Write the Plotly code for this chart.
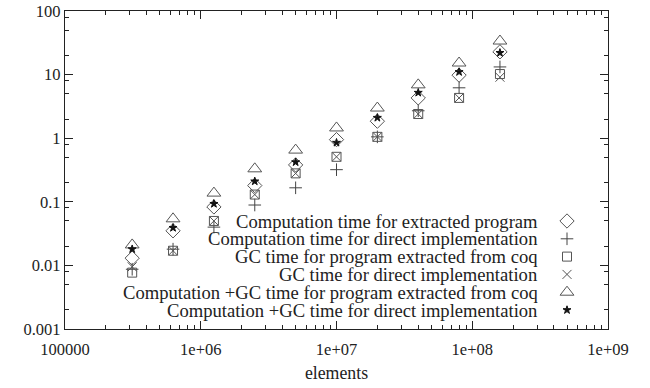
import plotly.graph_objects as go

# ---- data ----
elements = [312500, 625000, 1250000, 2500000, 5000000, 10000000, 20000000, 40000000, 80000000, 160000000]
comp_extracted = [0.013, 0.035, 0.083, 0.18, 0.38, 0.95, 1.85, 4.3, 9.8, 22.8]
comp_direct = [0.0087, 0.018, 0.04, 0.089, 0.166, 0.32, 1.05, 2.7, 6.2, 13.2]
gc_extracted = [0.0077, 0.017, 0.05, 0.13, 0.28, 0.51, 1.05, 2.4, 4.3, 10.2]
gc_direct = [0.0095, 0.017, 0.05, 0.13, 0.28, 0.51, 1.05, 2.4, 4.3, 9.1]
total_extracted = [0.021, 0.054, 0.137, 0.33, 0.65, 1.45, 2.98, 6.9, 15.2, 33.7]
total_direct = [0.018, 0.039, 0.093, 0.21, 0.42, 0.85, 2.1, 5.2, 11.0, 22.0]

series_names = [
    "Computation time for extracted program",
    "Computation time for direct implementation",
    "GC time for program extracted from coq",
    "GC time for direct implementation",
    "Computation +GC time for program extracted from coq",
    "Computation +GC time for direct implementation",
]
series_values = [comp_extracted, comp_direct, gc_extracted, gc_direct, total_extracted, total_direct]

x_tickvals = [1e5, 1e6, 1e7, 1e8, 1e9]
x_ticktext = ["100000", "1e+06", "1e+07", "1e+08", "1e+09"]
y_tickvals = [0.001, 0.01, 0.1, 1, 10, 100]
y_ticktext = ["0.001", "0.01", "0.1", "1", "10", "100"]

# ---- styles ----
symbols = ["diamond-open", "cross-thin-open", "square-open", "x-thin-open", "triangle-up-open", "star"]
sizes = [11, 9, 9, 9, 12, 6]
colors = ["#555555", "#444444", "#555555", "#555555", "#555555", "#111111"]
FONT = "Liberation Serif"

fig = go.Figure()
for name, vals, sym, sz, col in zip(series_names, series_values, symbols, sizes, colors):
    fig.add_trace(go.Scatter(
        x=elements, y=vals, mode="markers", name=name, showlegend=False,
        marker=dict(symbol=sym, size=sz, color=col, line=dict(width=1, color=col)),
    ))

# ---- gnuplot-style key (text right-aligned, symbol on the right) on a pixel overlay axis ----
L, R, T, B = 65, 608, 11, 329
key_text_right = 539
key_sym_x = 567
key_top = 221
key_step = 17.8
for i, (name, sym, sz, col) in enumerate(zip(series_names, symbols, sizes, colors)):
    yk = key_top + i * key_step
    fig.add_trace(go.Scatter(
        x=[key_sym_x], y=[yk], xaxis="x2", yaxis="y2", mode="markers", showlegend=False,
        hoverinfo="skip",
        marker=dict(symbol=sym, size=sz, color=col, line=dict(width=1, color=col)),
    ))
    fig.add_annotation(x=key_text_right, y=yk, xref="x2", yref="y2", text=name,
                       showarrow=False, xanchor="right", yanchor="middle",
                       borderpad=0,
                       font=dict(family=FONT, size=18.6, color="#222222"))

minor_y = [m * 10.0 ** e for e in range(-3, 2) for m in (2, 5, 8)]

fig.update_layout(
    width=650, height=388,
    margin=dict(l=L, r=650 - R, t=T, b=388 - B, autoexpand=False),
    paper_bgcolor="white", plot_bgcolor="white",
    font=dict(family=FONT, size=18, color="#222222"),
    xaxis=dict(
        type="log", range=[5, 9], tickvals=x_tickvals, ticktext=x_ticktext,
        ticks="inside", ticklen=8, tickwidth=1, tickcolor="#222",
        showline=True, linecolor="#222", linewidth=1.3, mirror="ticks",
        showgrid=False, zeroline=False, automargin=False,
        tickfont=dict(family=FONT, size=16.5), ticklabelstandoff=5,
        minor=dict(ticks="inside", ticklen=4, tickcolor="#222", dtick="D1", showgrid=False),
        title=dict(text="elements", font=dict(family=FONT, size=17.8), standoff=8),
    ),
    yaxis=dict(
        type="log", range=[-3, 2], tickvals=y_tickvals, ticktext=y_ticktext,
        ticks="inside", ticklen=8, tickwidth=1, tickcolor="#222",
        showline=True, linecolor="#222", linewidth=1.3, mirror="ticks",
        showgrid=False, zeroline=False, automargin=False,
        tickfont=dict(family=FONT, size=16.5),
        minor=dict(ticks="inside", ticklen=4, tickcolor="#222", tickmode="array",
                   tickvals=minor_y, showgrid=False),
    ),
    xaxis2=dict(overlaying="x", anchor="y2", range=[L, R], visible=False, fixedrange=True),
    yaxis2=dict(overlaying="y", anchor="x2", range=[B, T], visible=False, fixedrange=True),
)

fig.write_html("out.html", config={"displayModeBar": False},
               post_script="document.body.style.margin='0';")
